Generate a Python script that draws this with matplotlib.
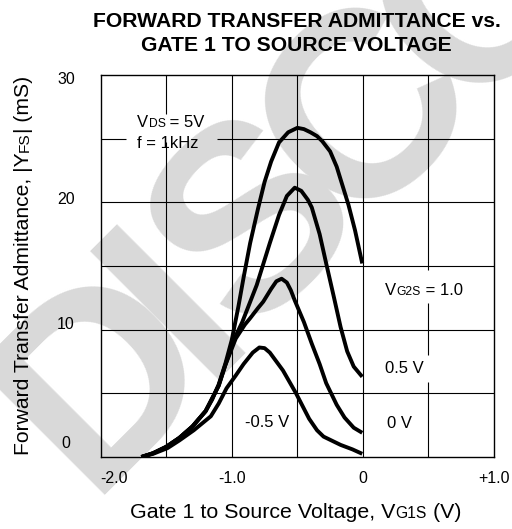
import numpy as np
import matplotlib
matplotlib.use('Agg')
import matplotlib.pyplot as plt
from matplotlib.transforms import IdentityTransform

plt.rcParams['font.family'] = ['Liberation Sans', 'DejaVu Sans']

# ── data (VG1S in V, |YFS| in mS) ────────────────────────────────────────────
v_10 = [-1.69, -1.6, -1.5, -1.4, -1.3, -1.2, -1.15, -1.1, -1.05, -1.0, -0.95,
        -0.91, -0.86, -0.8, -0.75, -0.7, -0.64, -0.57, -0.5, -0.45, -0.4,
        -0.35, -0.31, -0.25, -0.2, -0.17, -0.11, -0.06, -0.005]
y_10 = [0, 0.3, 0.8, 1.5, 2.4, 3.6, 4.5, 5.7, 7.3, 9.2, 11.8,
        14.1, 16.8, 19.5, 21.6, 23.2, 24.7, 25.5, 25.85, 25.75, 25.5,
        25.2, 24.8, 24.0, 22.8, 21.8, 19.8, 17.8, 15.2]

v_05 = [-1.69, -1.6, -1.5, -1.4, -1.3, -1.2, -1.1, -1.05, -0.98, -0.92,
        -0.81, -0.71, -0.64, -0.58, -0.52, -0.47, -0.42, -0.39, -0.33, -0.28,
        -0.22, -0.17, -0.12, -0.07, -0.005]
y_05 = [0, 0.3, 0.8, 1.5, 2.4, 3.6, 5.6, 7.2, 9.3, 10.6,
        13.5, 16.8, 19.0, 20.5, 21.15, 20.9, 20.2, 19.6, 17.5, 15.2,
        12.5, 10.2, 8.3, 7.1, 6.3]

v_00 = [-1.69, -1.6, -1.5, -1.4, -1.3, -1.2, -1.1, -1.05, -0.97, -0.9,
        -0.86, -0.8, -0.76, -0.7, -0.66, -0.62, -0.58, -0.55, -0.52, -0.45,
        -0.39, -0.33, -0.28, -0.2, -0.14, -0.07, -0.005]
y_00 = [0, 0.3, 0.8, 1.5, 2.4, 3.6, 5.6, 7.2, 9.3, 10.4,
        10.9, 11.7, 12.2, 13.2, 13.8, 14.0, 13.7, 13.1, 12.3, 10.6,
        8.9, 7.3, 5.8, 4.1, 3.1, 2.3, 1.9]

v_m05 = [-1.69, -1.6, -1.49, -1.4, -1.29, -1.16, -1.1, -1.04, -0.97, -0.91,
         -0.84, -0.79, -0.75, -0.71, -0.66, -0.61, -0.51, -0.41, -0.35, -0.3,
         -0.17, -0.08, -0.005]
y_m05 = [0, 0.25, 0.7, 1.3, 2.1, 3.2, 4.2, 5.4, 6.4, 7.3,
         8.2, 8.6, 8.55, 8.2, 7.5, 6.8, 5.0, 3.0, 2.1, 1.6,
         0.95, 0.6, 0.25]

curves = [(v_10, y_10), (v_05, y_05), (v_00, y_00), (v_m05, y_m05)]

x_ticks = [-2.0, -1.0, 0.0, 1.0]
x_tick_labels = ['-2.0', '-1.0', '0', '+1.0']
y_ticks = [0, 10, 20, 30]
y_tick_nudge = [-14, -5, -3, 4]      # px, label offset from its grid line

# label pieces: (text, is_small)
labels = [
    ((-1.72, 25.95), [('V', 0), ('DS', 1), (' = 5V', 0)]),
    ((-1.72, 24.25), [('f = 1kHz', 0)]),
    ((0.17, 12.7),   [('V', 0), ('G2S', 1), (' = 1.0', 0)]),
    ((0.172, 6.62),  [('0.5 V', 0)]),
    ((0.182, 2.3),   [('0 V', 0)]),
    ((-0.90, 2.38),  [('-0.5 V', 0)]),
]
# grid gaps behind the labels (x0, x1, y0, y1) in data units
gaps = [(-1.81, -1.11, 24.75, 26.9),
        (0.09, 0.82, 12.1, 14.7),
        (0.09, 0.60, 5.9, 8.0)]

WATERMARK = 'DISCONTINUED'

# ── figure ───────────────────────────────────────────────────────────────────
W, H = 512, 529
fig = plt.figure(figsize=(W / 100, H / 100), dpi=100)
ax = fig.add_axes([100.7 / W, 72 / H, 393.3 / W, 382 / H])
ax.set_facecolor('none')
renderer = fig.canvas.get_renderer()


def text_width(s, size, **kw):
    t = fig.text(0, 0, '|' + s + '|', fontsize=size, **kw)
    w = t.get_window_extent(renderer).width
    t.remove()
    t = fig.text(0, 0, '||', fontsize=size, **kw)
    w -= t.get_window_extent(renderer).width
    t.remove()
    return w


# watermark, letter by letter so the tracking can be tightened
WM_ANGLE, WM_SIZE, WM_TRACK = 45, 190, 0.85
ang = np.deg2rad(WM_ANGLE)
ux, uy = np.cos(ang), np.sin(ang)
bx, by = 87.0, 34.0
for ch in WATERMARK:
    fig.text(bx, by, ch, transform=IdentityTransform(), rotation=WM_ANGLE,
             rotation_mode='anchor', ha='left', va='baseline',
             fontsize=WM_SIZE, fontweight='bold', color='#d9d9d9', zorder=-5)
    adv = text_width(ch, WM_SIZE, fontweight='bold') * WM_TRACK
    bx += adv * ux
    by += adv * uy

ax.set_xlim(-2.0, 1.0)
ax.set_ylim(0, 30)
ax.set_xticks([])
ax.set_yticks([])
for s in ax.spines.values():
    s.set_linewidth(1.0)


def cut(lo, hi, holes):
    segs = [(lo, hi)]
    for a, b in holes:
        new = []
        for s0, s1 in segs:
            if b <= s0 or a >= s1:
                new.append((s0, s1))
                continue
            if a > s0:
                new.append((s0, a))
            if b < s1:
                new.append((b, s1))
        segs = new
    return segs


# grid lines, broken where the labels sit
for xv in np.arange(-1.5, 1.0, 0.5):
    holes = [(y0, y1) for x0, x1, y0, y1 in gaps if x0 < xv < x1]
    for s0, s1 in cut(0, 30, holes):
        ax.vlines(xv, s0, s1, color='black', linewidth=0.8, zorder=1)
for yv in np.arange(5, 30, 5):
    holes = [(x0, x1) for x0, x1, y0, y1 in gaps if y0 < yv < y1]
    for s0, s1 in cut(-2, 1, holes):
        ax.hlines(yv, s0, s1, color='black', linewidth=0.8, zorder=1)

for xs, ys in curves:
    ax.plot(xs, ys, color='black', linewidth=2.8, solid_joinstyle='round',
            solid_capstyle='butt', zorder=3)

# tick labels
for xv, lab in zip(x_ticks, x_tick_labels):
    ax.text(xv, -1.1, lab, ha='left' if xv == -2.0 else 'center', va='top',
            fontsize=11.5, clip_on=False)
for yv, dy in zip(y_ticks, y_tick_nudge):
    px, py = ax.transData.transform((-2.0, yv))
    fig.text(66, py - dy, str(yv), transform=IdentityTransform(),
             ha='center', va='center', fontsize=11.5)


def rich(x, y, parts, size, small=0.73, rotation=0, **kw):
    # x, y: baseline start in display pixels
    for s, is_small in parts:
        fs = size * (small if is_small else 1.0)
        fig.text(x, y, s, transform=IdentityTransform(), fontsize=fs,
                 rotation=rotation, rotation_mode='anchor', ha='left',
                 va='baseline', **kw)
        w = text_width(s, fs)
        if rotation == 90:
            y += w
        else:
            x += w


for (xd, yd), parts in labels:
    px, py = ax.transData.transform((xd, yd))
    rich(px, py, parts, 12)

# axis labels
rich(130, 11, [('Gate 1 to Source Voltage, V', 0), ('G1S', 1), (' (V)', 0)], 15.4)
rich(29, 74, [('Forward Transfer Admittance, |Y', 0), ('FS', 1), ('| (mS)', 0)],
     15.2, rotation=90)

# title
fig.text(296.5 / W, 1 - 26.7 / H, 'FORWARD TRANSFER ADMITTANCE vs.',
         ha='center', va='baseline', fontsize=15.2, fontweight='bold')
fig.text(296.5 / W, 1 - 50.7 / H, 'GATE 1 TO SOURCE VOLTAGE',
         ha='center', va='baseline', fontsize=15.2, fontweight='bold')

fig.savefig('out.png', dpi=100)
